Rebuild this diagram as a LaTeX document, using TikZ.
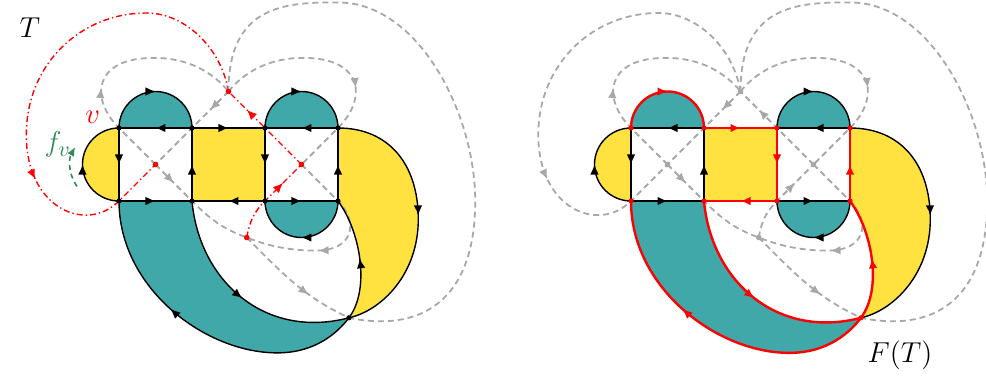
\documentclass[tikz,border=0pt]{standalone}
\usepackage{amsmath}
\usepackage{xcolor}
\usepackage{tikz}
\usetikzlibrary{arrows.meta,decorations.markings}
\definecolor{tealf}{RGB}{64,168,168}
\definecolor{yell}{RGB}{255,226,64}
\definecolor{dualg}{RGB}{168,168,168}
\definecolor{fgreen}{RGB}{46,139,87}
\newcommand{\gpts}{%
 \coordinate (A1) at (0,0); \coordinate (A2) at (1,0); \coordinate (A3) at (2,0); \coordinate (A4) at (3,0);
 \coordinate (B1) at (0,-1); \coordinate (B2) at (1,-1); \coordinate (B3) at (2,-1); \coordinate (B4) at (3,-1);
 \coordinate (J) at (3.15,-2.6);
 \coordinate (c1) at (0.5,-0.5); \coordinate (c3) at (2.5,-0.5); \coordinate (t) at (1.5,0.5); \coordinate (b) at (1.75,-1.5);}
\newcommand{\gfaces}{%
 \fill[tealf] (A1) arc[start angle=180,end angle=0,radius=0.5] -- cycle;
 \fill[tealf] (A3) arc[start angle=180,end angle=0,radius=0.5] -- cycle;
 \fill[tealf] (B3) arc[start angle=180,end angle=360,radius=0.5] -- cycle;
 \fill[yell] (A1) arc[start angle=90,end angle=270,radius=0.5] -- cycle;
 \fill[yell] (A2) rectangle (B3);
 \fill[yell] (A4) .. controls (3.7,0) and (4.1,-0.5) .. (4.1,-1.25) .. controls (4.1,-2) and (3.6,-2.5) .. (J) .. controls (3.45,-2.2) and (3.3,-1.4) .. (B4) -- cycle;
 \fill[tealf] (B1) .. controls (0,-2.2) and (1.2,-3.1) .. (2.2,-3.08) .. controls (2.7,-3.07) and (3,-2.8) .. (J) .. controls (2,-2.9) and (1.1,-2.1) .. (B2) -- cycle;}
\newcommand{\gedges}[1]{%
 \draw[pedge] (A2) -- (A1); \draw[pedge,#1] (A1) arc[start angle=180,end angle=0,radius=0.5];
 \draw[pedge,#1] (A2) -- (A3); \draw[pedge] (A4) -- (A3); \draw[pedge] (A3) arc[start angle=180,end angle=0,radius=0.5];
 \draw[pedge] (A1) -- (B1); \draw[pedge] (B1) arc[start angle=270,end angle=90,radius=0.5];
 \draw[pedge] (B2) -- (A2); \draw[pedge,#1] (A3) -- (B3); \draw[pedge,#1] (B4) -- (A4);
 \draw[pedge] (B1) -- (B2); \draw[pedge,#1] (B3) -- (B2); \draw[pedge] (B3) -- (B4);
 \draw[pedge] (B4) arc[start angle=0,end angle=-180,radius=0.5];
 \draw[pedge] (A4) .. controls (3.7,0) and (4.1,-0.5) .. (4.1,-1.25) .. controls (4.1,-2) and (3.6,-2.5) .. (J);
 \draw[pedge,#1] (J) .. controls (3.45,-2.2) and (3.3,-1.4) .. (B4);
 \draw[pedge,#1] (B2) .. controls (1.1,-2.1) and (2,-2.9) .. (J);
 \draw[pedge=0.62,#1] (J) .. controls (3,-2.8) and (2.7,-3.07) .. (2.2,-3.08) .. controls (1.2,-3.1) and (0,-2.2) .. (B1);}
\newcommand{\gdual}[1]{%
 \draw[dualln,midarr=0.39] (c1) -- (A1) .. controls (-0.4,0.4) and (-0.35,0.95) .. (0.45,0.96) .. controls (0.95,0.97) and (1.3,0.75) .. (t);
 \draw[dualln,midarr=0.25] (t) -- (c1);
 \draw[dualln,#1,midarr=0.7] (t) .. controls (1.4,1.1) and (0.9,1.575) .. (0.38,1.575) .. controls (-0.5,1.58) and (-1.27,0.9) .. (-1.27,-0.1) .. controls (-1.27,-1.1) and (-0.45,-1.45) .. (B1) -- (c1);
 \draw[dualln,#1,midarr=0.75] (c3) -- (t);
 \draw[dualln,midarr=0.61] (t) .. controls (1.7,0.75) and (2.05,0.97) .. (2.55,0.96) .. controls (3.35,0.95) and (3.4,0.4) .. (A4) -- (c3);
 \draw[dualln,midarr=0.22] (c1) -- (B2) to[out=-45,in=160] (b);
 \draw[dualln,#1,midarr=0.72] (b) to[out=80,in=225] (B3) -- (c3);
 \draw[dualln,midarr=0.63] (c3) -- (B4) .. controls (3.3,-1.3) and (3.2,-1.68) .. (2.7,-1.68) .. controls (2.3,-1.68) and (2,-1.6) .. (b);
 \draw[dualln,midarr=0.11] (b) to[out=-45,in=155] (J) .. controls (4.1,-2.8) and (4.88,-2.4) .. (4.88,-1) .. controls (4.88,0.2) and (4.1,1.72) .. (3,1.72) .. controls (2.3,1.72) and (1.5,1.7) .. (t);}
\newcommand{\gdots}[2]{%
 \foreach \p in {A1,A2,A3,A4,B1,B2,B3,B4,J} \fill[#1] (\p) circle (1.3pt);
 \foreach \p in {c1,c3,t,b} \fill[#2] (\p) circle (1.4pt);}

\begin{document}
\begin{tikzpicture}[x=36.5pt,y=36.5pt,>=Latex,font=\fontsize{15}{18}\selectfont]
\tikzset{midarr/.style={postaction={decorate},decoration={markings,mark=at position #1 with {\arrow{Latex[length=5pt,width=4.3pt]}}}},
  pedge/.style={draw=black,line width=0.7pt,midarr=#1},pedge/.default=0.5,
  fedge/.style={draw=red,line width=1.2pt},
  dualln/.style={draw=dualg,line width=0.9pt,dash pattern=on 3pt off 2pt},
  tedge/.style={draw=red,line width=0.7pt,dash pattern=on 3pt off 1.5pt on 0.7pt off 1.5pt}}
\useasboundingbox (-1.6301,-3.4658) rectangle (11.8767,1.7534);
% left: the tree T
\gpts \gfaces \gdual{tedge} \gedges{} \gdots{black}{red}
\node (lT) at (-1.22,1.38) {$T$};
\node[text=red] (lv) at (-0.36,0.14) {$v$};
\node[text=fgreen] (lf) at (-0.84,-0.23) {$f_v$};
\coordinate (f0) at (-0.575,-0.8); \coordinate (f1) at (-0.6,-0.26);
\draw[fgreen,line width=0.8pt,dash pattern=on 2.5pt off 2pt,-{Latex[length=4.5pt,width=3.8pt]}] (f0) .. controls (-0.7,-0.62) and (-0.69,-0.42) .. (f1);
% right: the flow F(T)
\begin{scope}[xshift=256pt]
\gpts \gfaces \gdual{} \gedges{fedge} \gdots{red}{dualg}
\node (lF) at (3.685,-3.11) {$F(T)$};
\end{scope}
\end{tikzpicture}
\end{document}
